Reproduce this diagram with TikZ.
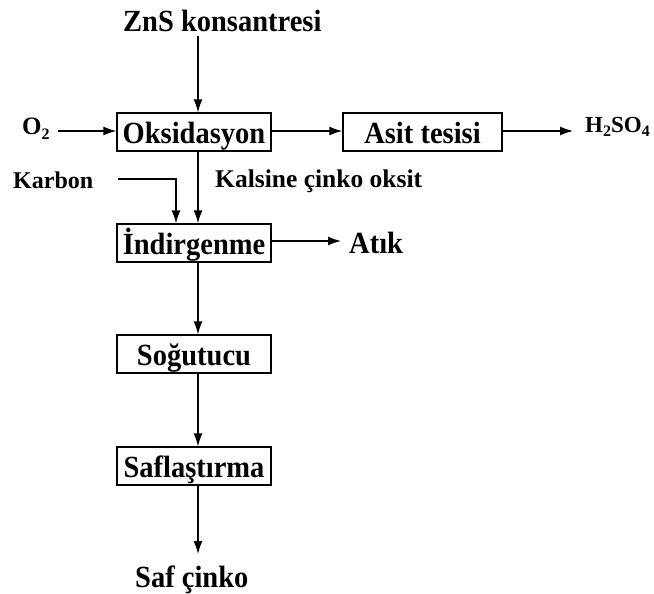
\documentclass[tikz,border=0pt]{standalone}
\usepackage{fontspec}
\setmainfont{Liberation Serif}
\usetikzlibrary{arrows.meta}
\newcommand{\T}[1]{\scalebox{1}[1.08]{#1}}
\newcommand{\sbs}[1]{\raisebox{-0.2em}{\fontsize{16}{16}\selectfont #1}}
\begin{document}
\begin{tikzpicture}[x=1pt,y=-1pt,
  every node/.style={font=\fontsize{28.5}{30}\selectfont\bfseries},
  small/.style={font=\fontsize{24}{26}\selectfont\bfseries},
  procbox/.style={draw,line width=1.3pt,minimum width=154pt,minimum height=38pt,inner sep=0pt,text height=22pt,text depth=0pt},
  lbl/.style={inner sep=0pt,anchor=base west},
  arr/.style={line width=1.3pt,-{Latex[length=13pt,width=9pt]}}]
\useasboundingbox (0,0) rectangle (654,594);
% boxes
\node[procbox] (oks) at (194,132) {\T{Oksidasyon}};
\node[procbox,minimum width=159pt] (asit) at (422.5,132) {\T{Asit tesisi}};
\node[procbox] (ind) at (194,243) {\T{İndirgenme}};
\node[procbox] (sog) at (194,354) {\T{Soğutucu}};
\node[procbox] (saf) at (194,466) {\T{Saflaştırma}};
% labels
\node[lbl] (zns) at (123,32) {\T{ZnS konsantresi}};
\node[lbl,font=\fontsize{25}{27}\selectfont\bfseries] (o2) at (22,135) {O\sbs{2}};
\node[lbl,small] (karbon) at (13,188) {Karbon};
\node[lbl,font=\fontsize{25.5}{27}\selectfont\bfseries] (kals) at (215,187) {Kalsine çinko oksit};
\node[lbl] (atik) at (349,253) {\T{Atık}};
\node[lbl,font=\fontsize{23}{25}\selectfont\bfseries] (h2so4) at (585,132) {H\sbs{2}SO\sbs{4}};
\node[lbl] (safc) at (135,587) {\T{Saf çinko}};
% helper coordinates
\coordinate (vx) at (198,0);
\coordinate (kx) at (176,0);
\coordinate (zs) at (198,36);
\coordinate (o2e) at (58,131);
\coordinate (h2w) at (573,131);
\coordinate (atw) at (341,241);
\coordinate (kst) at (118,179);
\coordinate (sct) at (198,554);
% connectors
\draw[arr] (zs) -- (oks.north -| vx);
\draw[arr] (o2e) -- (oks.west |- o2e);
\draw[arr] (oks.east |- o2e) -- (asit.west |- o2e);
\draw[arr] (asit.east |- o2e) -- (h2w);
\draw[arr] (oks.south -| vx) -- (ind.north -| vx);
\draw[arr] (kst) -| (ind.north -| kx);
\draw[arr] (ind.east |- atw) -- (atw);
\draw[arr] (ind.south -| vx) -- (sog.north -| vx);
\draw[arr] (sog.south -| vx) -- (saf.north -| vx);
\draw[arr] (saf.south -| vx) -- (sct);
\end{tikzpicture}
\end{document}
